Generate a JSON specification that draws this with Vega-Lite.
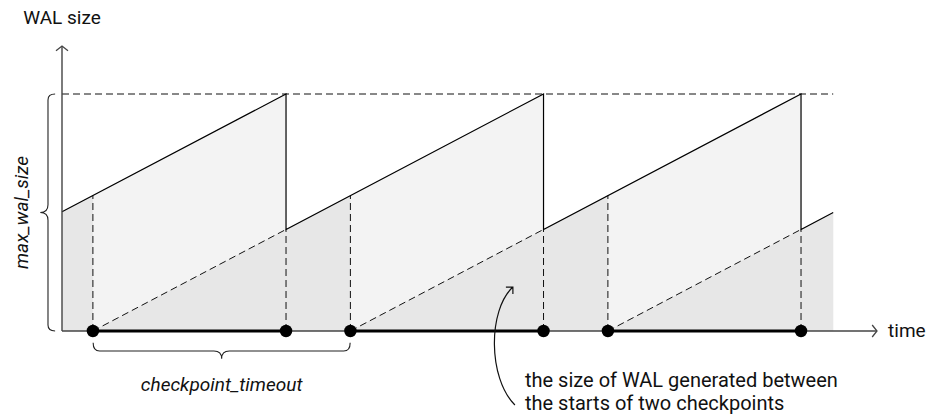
{
  "$schema": "https://vega.github.io/schema/vega-lite/v6.json",
  "width": 927,
  "height": 420,
  "autosize": {"type": "none"},
  "padding": 0,
  "background": "white",
  "config": {"view": {"stroke": null}, "font": "Roboto"},
  "data": {
    "values": [
      {"kind": "wal", "ord": 1, "t": 0, "w": 8.8},
      {"kind": "wal", "ord": 2, "t": 8.7, "w": 17.5},
      {"kind": "wal", "ord": 3, "t": 8.7, "w": 7.5},
      {"kind": "wal", "ord": 4, "t": 18.7, "w": 17.5},
      {"kind": "wal", "ord": 5, "t": 18.7, "w": 7.5},
      {"kind": "wal", "ord": 6, "t": 28.7, "w": 17.5},
      {"kind": "wal", "ord": 7, "t": 28.7, "w": 7.5},
      {"kind": "wal", "ord": 8, "t": 29.95, "w": 8.75},
      {"kind": "since", "ord": 1, "t": 0, "w": 8.8},
      {"kind": "since", "ord": 2, "t": 1.2, "w": 10.0},
      {"kind": "since", "ord": 3, "t": 1.2, "w": 0},
      {"kind": "since", "ord": 4, "t": 11.2, "w": 10.0},
      {"kind": "since", "ord": 5, "t": 11.2, "w": 0},
      {"kind": "since", "ord": 6, "t": 21.2, "w": 10.0},
      {"kind": "since", "ord": 7, "t": 21.2, "w": 0},
      {"kind": "since", "ord": 8, "t": 29.95, "w": 8.75},
      {"kind": "diag", "seg": "a", "ord": 1, "t": 1.2, "w": 0},
      {"kind": "diag", "seg": "a", "ord": 2, "t": 8.7, "w": 7.5},
      {"kind": "diag", "seg": "b", "ord": 1, "t": 11.2, "w": 0},
      {"kind": "diag", "seg": "b", "ord": 2, "t": 18.7, "w": 7.5},
      {"kind": "diag", "seg": "c", "ord": 1, "t": 21.2, "w": 0},
      {"kind": "diag", "seg": "c", "ord": 2, "t": 28.7, "w": 7.5},
      {"kind": "vdash", "t": 1.2, "w": 0, "w2": 10.0},
      {"kind": "vdash", "t": 8.7, "w": 0, "w2": 7.5},
      {"kind": "vdash", "t": 11.2, "w": 0, "w2": 10.0},
      {"kind": "vdash", "t": 18.7, "w": 0, "w2": 7.5},
      {"kind": "vdash", "t": 21.2, "w": 0, "w2": 10.0},
      {"kind": "vdash", "t": 28.7, "w": 0, "w2": 7.5},
      {"kind": "max", "t": 0, "t2": 29.95, "w": 17.5},
      {"kind": "yaxis", "t": 0, "w": 0, "w2": 21.04},
      {"kind": "xaxis", "t": 0, "t2": 31.65, "w": 0},
      {"kind": "ckpt", "t": 1.2, "t2": 8.7, "w": 0},
      {"kind": "ckpt", "t": 11.2, "t2": 18.7, "w": 0},
      {"kind": "ckpt", "t": 21.2, "t2": 28.7, "w": 0},
      {"kind": "dot", "t": 1.2, "w": 0},
      {"kind": "dot", "t": 8.7, "w": 0},
      {"kind": "dot", "t": 11.2, "w": 0},
      {"kind": "dot", "t": 18.7, "w": 0},
      {"kind": "dot", "t": 21.2, "w": 0},
      {"kind": "dot", "t": 28.7, "w": 0},
      {"kind": "yarrow", "t": 0, "w": 21.04},
      {"kind": "xarrow", "t": 31.65, "w": 0},
      {"kind": "vbrace", "t": -0.544, "w": 8.75},
      {"kind": "hbrace", "t": 6.2, "w": -1.48},
      {"kind": "callout", "t": 17.2, "w": -1.11},
      {"kind": "ylabel", "t": 0, "w": 23.1, "label": "WAL size"},
      {"kind": "xlabel", "t": 32.08, "w": 0, "label": "time"},
      {"kind": "maxlabel", "t": -1.55, "w": 8.75, "label": "max_wal_size"},
      {"kind": "cplabel", "t": 6.2, "w": -3.99, "label": "checkpoint_timeout"},
      {"kind": "note", "t": 17.98, "w": -3.7, "label": "the size of WAL generated between"},
      {"kind": "note", "t": 17.98, "w": -5.36, "label": "the starts of two checkpoints"}
    ]
  },
  "encoding": {
    "x": {"field": "t", "type": "quantitative", "scale": {"domain": [0, 30], "range": [62, 834.5], "zero": false, "nice": false}, "axis": null},
    "y": {"field": "w", "type": "quantitative", "scale": {"domain": [0, 17.5], "range": [331, 94], "zero": false, "nice": false}, "axis": null}
  },
  "layer": [
    {
      "transform": [{"filter": "datum.kind === 'wal'"}],
      "mark": {"type": "area", "orient": "vertical", "fill": "#f3f3f3", "opacity": 1},
      "encoding": {"y2": {"datum": 0}}
    },
    {
      "transform": [{"filter": "datum.kind === 'since'"}],
      "mark": {"type": "area", "orient": "vertical", "fill": "#e7e7e7", "opacity": 1},
      "encoding": {"y2": {"datum": 0}}
    },
    {
      "transform": [{"filter": "datum.kind === 'max'"}],
      "mark": {"type": "rule", "color": "#111", "strokeWidth": 1, "strokeDash": [7, 4]},
      "encoding": {"x2": {"field": "t2"}}
    },
    {
      "transform": [{"filter": "datum.kind === 'vdash'"}],
      "mark": {"type": "rule", "color": "#111", "strokeWidth": 1, "strokeDash": [7, 4]},
      "encoding": {"y2": {"field": "w2"}}
    },
    {
      "transform": [{"filter": "datum.kind === 'diag'"}],
      "mark": {"type": "line", "color": "#111", "strokeWidth": 1, "strokeDash": [7, 4]},
      "encoding": {"detail": {"field": "seg"}, "order": {"field": "ord", "type": "quantitative"}}
    },
    {
      "transform": [{"filter": "datum.kind === 'wal'"}],
      "mark": {"type": "line", "color": "#000", "strokeWidth": 1.2},
      "encoding": {"order": {"field": "ord", "type": "quantitative"}}
    },
    {
      "transform": [{"filter": "datum.kind === 'yaxis'"}],
      "mark": {"type": "rule", "color": "#444", "strokeWidth": 1.4},
      "encoding": {"y2": {"field": "w2"}}
    },
    {
      "transform": [{"filter": "datum.kind === 'xaxis'"}],
      "mark": {"type": "rule", "color": "#444", "strokeWidth": 1.4},
      "encoding": {"x2": {"field": "t2"}}
    },
    {
      "transform": [{"filter": "datum.kind === 'ckpt'"}],
      "mark": {"type": "rule", "color": "#000", "strokeWidth": 3},
      "encoding": {"x2": {"field": "t2"}}
    },
    {
      "transform": [{"filter": "datum.kind === 'dot'"}],
      "mark": {"type": "circle", "color": "#000", "size": 155, "opacity": 1}
    },
    {
      "transform": [{"filter": "datum.kind === 'yarrow'"}],
      "mark": {"type": "point", "shape": "M-1,0.8L0,0L1,0.8", "filled": false, "stroke": "#444", "strokeWidth": 1.3, "size": 144, "opacity": 1}
    },
    {
      "transform": [{"filter": "datum.kind === 'xarrow'"}],
      "mark": {"type": "point", "shape": "M-0.8,-1L0,0L-0.8,1", "filled": false, "stroke": "#444", "strokeWidth": 1.3, "size": 144, "opacity": 1}
    },
    {
      "transform": [{"filter": "datum.kind === 'vbrace'"}],
      "mark": {"type": "point", "shape": "M0.06,-1Q0,-1 0,-0.95L0,-0.065Q0,0 -0.065,0Q0,0 0,0.065L0,0.95Q0,1 0.06,1", "filled": false, "stroke": "#222", "strokeWidth": 1.1, "size": 56169, "opacity": 1}
    },
    {
      "transform": [{"filter": "datum.kind === 'hbrace'"}],
      "mark": {"type": "point", "shape": "M-1,-0.065Q-1,0 -0.95,0L-0.06,0Q0,0 0,0.06Q0,0 0.06,0L0.95,0Q1,0 1,-0.065", "filled": false, "stroke": "#222", "strokeWidth": 1.1, "size": 66049, "opacity": 1}
    },
    {
      "transform": [{"filter": "datum.kind === 'callout'"}],
      "mark": {"type": "point", "shape": "M0.1667,0.9833C-0.2833,0.5333 -0.2833,-0.6 0.1333,-0.9833M0.0167,-0.9833L0.1333,-0.9833L0.1333,-0.8667", "filled": false, "stroke": "#111", "strokeWidth": 1.2, "size": 14400, "opacity": 1}
    },
    {
      "transform": [{"filter": "datum.kind === 'ylabel'"}],
      "mark": {"type": "text", "fontSize": 19, "align": "center", "baseline": "middle", "color": "#111"},
      "encoding": {"text": {"field": "label"}}
    },
    {
      "transform": [{"filter": "datum.kind === 'xlabel'"}],
      "mark": {"type": "text", "fontSize": 19, "align": "left", "baseline": "middle", "color": "#111"},
      "encoding": {"text": {"field": "label"}}
    },
    {
      "transform": [{"filter": "datum.kind === 'maxlabel'"}],
      "mark": {"type": "text", "fontSize": 19, "fontStyle": "italic", "angle": 270, "align": "center", "baseline": "middle", "color": "#111"},
      "encoding": {"text": {"field": "label"}}
    },
    {
      "transform": [{"filter": "datum.kind === 'cplabel'"}],
      "mark": {"type": "text", "fontSize": 19, "fontStyle": "italic", "align": "center", "baseline": "middle", "color": "#111"},
      "encoding": {"text": {"field": "label"}}
    },
    {
      "transform": [{"filter": "datum.kind === 'note'"}],
      "mark": {"type": "text", "fontSize": 20, "align": "left", "baseline": "middle", "color": "#111"},
      "encoding": {"text": {"field": "label"}}
    }
  ]
}
